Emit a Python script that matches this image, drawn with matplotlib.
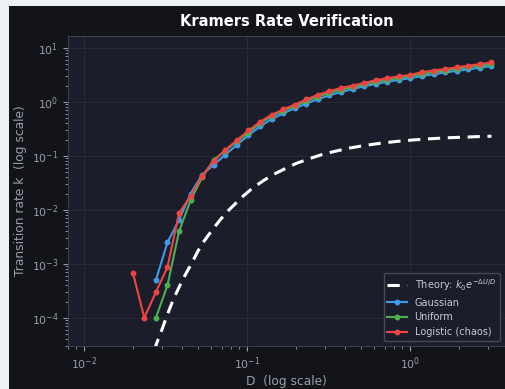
import matplotlib.pyplot as plt
from matplotlib.patches import Rectangle

# noise intensity D (log spaced)
D = [0.0200, 0.0235, 0.0277, 0.0326, 0.0384, 0.0452, 0.0532, 0.0627,
     0.0738, 0.0869, 0.1023, 0.1205, 0.1419, 0.1671, 0.1968, 0.2317,
     0.2725, 0.3206, 0.3776, 0.4446, 0.5236, 0.6166, 0.7261, 0.8551,
     1.007, 1.186, 1.396, 1.644, 1.936, 2.280, 2.685, 3.162]

# theory curve k0*exp(-dU/D)
D_theory = [0.0250, 0.0265, 0.0280, 0.0300, 0.0320, 0.0345, 0.0370, 0.0400,
            0.0430, 0.0465, 0.0500, 0.0545, 0.0590, 0.0640, 0.0700, 0.0770,
            0.0850, 0.0950, 0.1080, 0.1250, 0.1450, 0.1700, 0.2000, 0.2400,
            0.2900, 0.3500, 0.4300, 0.5300, 0.6600, 0.8300, 1.050, 1.330,
            1.700, 2.150, 2.700, 3.162]
theory = [1.1e-5, 2.0e-5, 3.4e-5, 5.8e-5, 1.0e-4, 1.8e-4, 2.9e-4, 4.8e-4,
          7.2e-4, 1.1e-3, 1.7e-3, 2.6e-3, 3.6e-3, 5.0e-3, 7.0e-3, 9.7e-3,
          1.3e-2, 1.8e-2, 2.5e-2, 3.4e-2, 4.5e-2, 5.7e-2, 7.2e-2, 8.8e-2,
          0.106, 0.122, 0.140, 0.156, 0.171, 0.185, 0.197, 0.207,
          0.216, 0.222, 0.228, 0.231]

gauss = [None, None, 5e-4, 2.5e-3, 6.5e-3, 0.020, 0.045, 0.068,
         0.105, 0.16, 0.24, 0.35, 0.48, 0.61, 0.76, 0.93,
         1.12, 1.32, 1.52, 1.72, 1.95, 2.15, 2.35, 2.55,
         2.75, 3.0, 3.25, 3.5, 3.75, 4.0, 4.3, 4.6]

uniform = [None, None, 1e-4, 4e-4, 4e-3, 0.015, 0.040, 0.085,
           0.125, 0.185, 0.27, 0.40, 0.54, 0.68, 0.84, 1.03,
           1.25, 1.46, 1.68, 1.88, 2.1, 2.35, 2.56, 2.78,
           3.0, 3.3, 3.55, 3.8, 4.1, 4.4, 4.7, 5.0]

logistic = [6.8e-4, 1.0e-4, 3.0e-4, 8.7e-4, 8.7e-3, 0.018, 0.043, 0.079,
            0.129, 0.195, 0.295, 0.427, 0.575, 0.724, 0.891, 1.11,
            1.35, 1.58, 1.82, 2.0, 2.24, 2.51, 2.75, 2.95,
            3.16, 3.55, 3.80, 4.07, 4.37, 4.68, 5.01, 5.37]

def nz(xs, ys):
    pts = [(x, y) for x, y in zip(xs, ys) if y is not None]
    return [p[0] for p in pts], [p[1] for p in pts]

fig = plt.figure(figsize=(5.06, 3.89), dpi=100, facecolor='#eef2f5')
fig.add_artist(Rectangle((9/506, 0), 1, 383/389, transform=fig.transFigure,
                         facecolor='#121419', edgecolor='none', zorder=-10))
ax = fig.add_axes([68/506, 1 - 346/389, (505 - 68)/506, (346 - 36)/389])
ax.set_facecolor('#1b1e2a')

ax.plot(D_theory, theory, '--', color='white', lw=2.2, dashes=(4, 2.5),
        label=r'Theory: $k_0 e^{-\Delta U/D}$', zorder=3)
x, y = nz(D, gauss)
ax.plot(x, y, '-o', color='#3d9be9', lw=1.5, ms=3.2, label='Gaussian')
x, y = nz(D, uniform)
ax.plot(x, y, '-o', color='#4caf50', lw=1.5, ms=3.2, label='Uniform')
x, y = nz(D, logistic)
ax.plot(x, y, '-o', color='#ef4444', lw=1.5, ms=3.2, label='Logistic (chaos)')

ax.set_xscale('log')
ax.set_yscale('log')
ax.set_xlim(0.008, 3.83)
ax.set_ylim(3.0e-5, 16.6)
ax.grid(True, which='major', color='#2a2e3b', lw=0.6)

for s in ax.spines.values():
    s.set_color('#3a3e4a')
ax.tick_params(colors='#9a9ea8', labelsize=7.8, which='both')

ax.set_title('Kramers Rate Verification', color='white', fontsize=10.5,
             fontweight='bold', pad=7)
ax.set_xlabel('D  (log scale)', color='#9a9ea8', fontsize=8.8, labelpad=2)
ax.set_ylabel('Transition rate k  (log scale)', color='#9a9ea8', fontsize=8.8,
              labelpad=3)

leg = ax.legend(loc='lower right', fontsize=7, facecolor='#1b1e2a',
                edgecolor='#4a4e5a', labelcolor='#c8cbd2', framealpha=0.9)

plt.savefig('out.png', dpi=100, facecolor=fig.get_facecolor())
